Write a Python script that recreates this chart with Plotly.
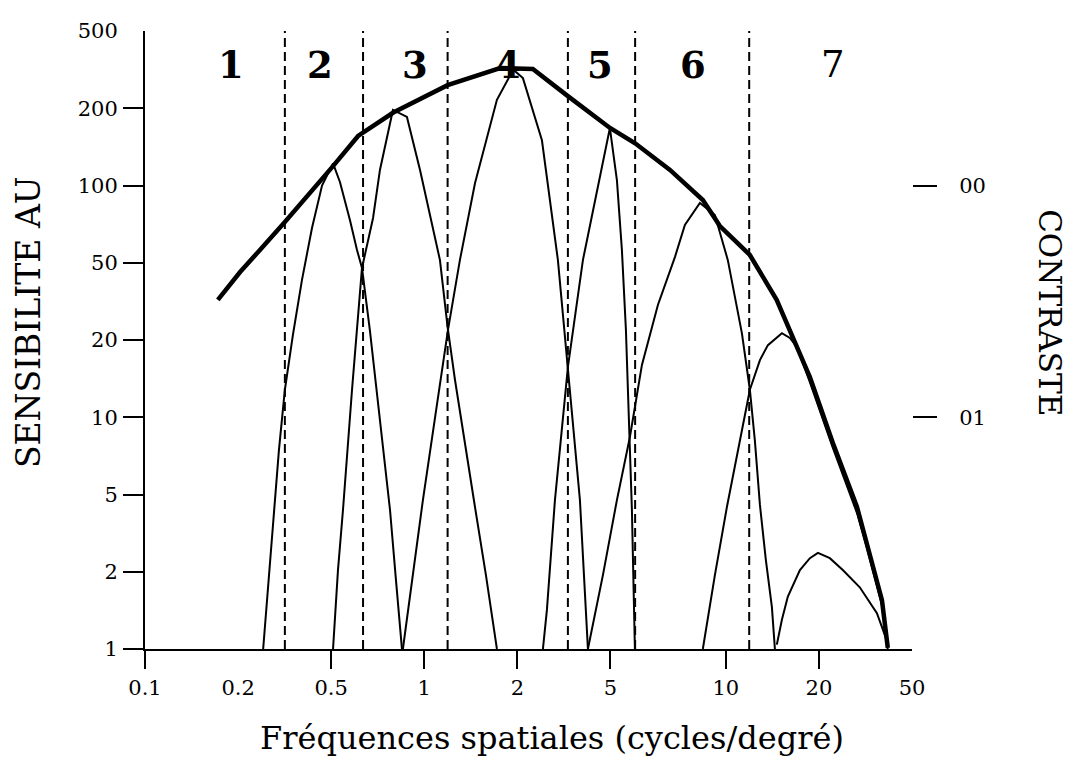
import numpy as np
import plotly.graph_objects as go

# ---- axis tick values / labels ----
X_TICKS = [0.1, 0.2, 0.5, 1, 2, 5, 10, 20, 50]
X_TICK_LABELS = ["0.1", "0.2", "0.5", "1", "2", "5", "10", "20", "50"]
X_TICKS_MARKED = [0.1, 0.5, 1, 2, 5, 10, 20]
Y_TICKS = [1, 2, 5, 10, 20, 50, 100, 200, 500]
Y_TICK_LABELS = ["1", "2", "5", "10", "20", "50", "100", "200", "500"]
Y_TICKS_MARKED = [1, 2, 5, 10, 20, 50, 100, 200]
CONTRAST_TICKS = [100, 10]
CONTRAST_LABELS = ["00", "01"]

# axis calibration of the hand-drawn scales (tick index positions)
X_SCALE = [0, 1, 2, 3, 4, 5, 6.24, 7.24, 8.24]
Y_SCALE = [0, 1, 2, 3, 4, 5, 6, 7, 8]

# ---- data: spatial frequency (c/deg) vs sensitivity ----
env_f = [0.172, 0.204, 0.248, 0.317, 0.507, 0.611, 0.792, 1.19, 1.76, 2.05, 2.33, 3.29, 4.98,
         5.80, 7.15, 8.71, 9.65, 11.96, 14.6, 18.7, 22.95, 29.1, 32.1, 37.2, 39.4]
env_s = [32.2, 44.8, 56.1, 72.1, 119, 156, 192, 263, 322, 322, 319, 231, 167.5,
         146, 115, 87.8, 69.5, 53.6, 32.2, 14.35, 7.94, 4.31, 2.81, 1.55, 1.01]

ch2_f = [0.256, 0.268, 0.282, 0.299, 0.317, 0.343, 0.375, 0.414, 0.457, 0.507,
         0.534, 0.575, 0.606, 0.629, 0.667, 0.719, 0.775, 0.81, 0.847]
ch2_s = [1.0, 1.7, 3.4, 7.45, 12.8, 21.2, 40.7, 68.3, 100, 122,
         103, 73.4, 56.1, 47.0, 22.5, 9.76, 4.16, 1.86, 1.0]

ch3_f = [0.507, 0.526, 0.546, 0.584, 0.629, 0.683, 0.719, 0.792, 0.879, 0.969,
         1.124, 1.19, 1.257, 1.354, 1.459, 1.583, 1.718]
ch3_s = [1.0, 2.04, 4.16, 12.8, 47.0, 74.7, 115, 197, 185, 115,
         51.2, 23.3, 14.0, 7.8, 4.31, 1.94, 1.0]

ch4_f = [0.853, 0.919, 0.990, 1.083, 1.193, 1.304, 1.459, 1.718, 1.94, 2.113,
         2.548, 2.982, 3.291, 3.704, 4.007]
ch4_s = [1.0, 1.94, 4.68, 9.93, 22.5, 51.2, 102, 221, 316, 286,
         150, 51.2, 15.7, 4.68, 1.0]

ch5_f = [2.573, 2.676, 2.896, 3.291, 3.814, 4.378, 4.975, 5.199, 5.357, 5.488,
         5.587, 5.689, 5.792]
ch5_s = [1.0, 1.42, 4.68, 15.7, 51.2, 96.0, 167.5, 105, 56.1, 22.5,
         9.76, 4.16, 1.0]

ch6_f = [4.007, 4.644, 5.199, 5.621, 6.042, 6.65, 7.365, 7.82, 8.558, 9.364,
         10.15, 11.27, 11.96, 12.41, 12.89, 13.47, 14.09, 14.41]
ch6_s = [1.0, 1.94, 4.68, 8.38, 16.0, 30.3, 52.6, 70.2, 85.5, 76.7,
         51.2, 21.7, 12.8, 8.15, 4.42, 2.30, 1.46, 1.0]

ch7_f = [8.71, 9.364, 10.08, 11.10, 11.96, 12.89, 13.68, 15.18, 16.11, 16.97,
         18.70, 22.95, 29.1, 32.1, 37.2, 39.4]
ch7_s = [1.0, 1.94, 4.31, 8.15, 12.8, 16.7, 19.1, 21.7, 20.5, 18.8,
         13.7, 7.59, 4.01, 2.65, 1.48, 1.0]

ch8_f = [14.62, 15.18, 15.87, 17.36, 18.70, 19.85, 22.27, 25.3, 29.9, 35.4, 39.0]
ch8_s = [1.04, 1.30, 1.60, 2.04, 2.35, 2.50, 2.35, 2.04, 1.74, 1.38, 1.08]

channels = [(ch2_f, ch2_s), (ch3_f, ch3_s), (ch4_f, ch4_s), (ch5_f, ch5_s),
            (ch6_f, ch6_s), (ch7_f, ch7_s), (ch8_f, ch8_s)]

band_limits = [0.317, 0.634, 1.19, 3.29, 5.80, 11.9]
band_labels = ["1", "2", "3", "4", "5", "6", "7"]
band_label_f = [0.19, 0.448, 0.933, 1.865, 4.51, 8.2, 22.95]


def fx(v):
    return np.interp(np.log10(np.asarray(v, float)), np.log10(X_TICKS), X_SCALE)


def fy(v):
    return np.interp(np.log10(np.asarray(v, float)), np.log10(Y_TICKS), Y_SCALE)


XR = [float(fx(0.1)), float(fx(50))]
YR = [float(fy(1)), float(fy(500))]

FONT = "DejaVu Serif"
fig = go.Figure()

for lim in band_limits:
    fig.add_trace(go.Scatter(x=[float(fx(lim))] * 2, y=YR, mode="lines",
                             line=dict(color="black", width=2, dash="9px,5px"),
                             hoverinfo="skip", showlegend=False))

for f, s in channels:
    fig.add_trace(go.Scatter(x=fx(f), y=fy(s), mode="lines",
                             line=dict(color="black", width=2),
                             showlegend=False))

fig.add_trace(go.Scatter(x=fx(env_f), y=fy(env_s), mode="lines",
                         line=dict(color="black", width=4.5),
                         showlegend=False))

# invisible carriers for the overlay axes
fig.add_trace(go.Scatter(x=XR, y=YR, xaxis="x2", yaxis="y2", mode="lines",
                         line=dict(width=0), hoverinfo="skip", showlegend=False))
fig.add_trace(go.Scatter(x=XR, y=YR, xaxis="x", yaxis="y3", mode="lines",
                         line=dict(width=0), hoverinfo="skip", showlegend=False))

for lab, f in zip(band_labels, band_label_f):
    txt = lab if lab == "7" else "<b>" + lab + "</b>"
    fig.add_annotation(x=float(fx(f)), y=0.945, xref="x", yref="paper", text=txt,
                       xanchor="center", yanchor="middle",
                       showarrow=False, font=dict(family=FONT, size=37, color="black"))

fig.add_annotation(x=0.5306, y=-0.144, xref="paper", yref="paper",
                   xanchor="center", yanchor="middle",
                   text="Fréquences spatiales (cycles/degré)", showarrow=False,
                   font=dict(family=FONT, size=32, color="black"))
fig.add_annotation(x=-0.1525, y=0.529, xref="paper", yref="paper",
                   xanchor="center", yanchor="middle",
                   text="SENSIBILITE AU", textangle=-90, showarrow=False,
                   font=dict(family=FONT, size=33, color="black"))
fig.add_annotation(x=1.18, y=0.545, xref="paper", yref="paper",
                   xanchor="center", yanchor="middle",
                   text="CONTRASTE", textangle=90, showarrow=False,
                   font=dict(family=FONT, size=31, color="black"))

tickfont = dict(family=FONT, size=21, color="black")
fig.update_layout(
    width=1069, height=760,
    margin=dict(l=145, r=157, t=31, b=111),
    paper_bgcolor="white", plot_bgcolor="white",
    showlegend=False,
    xaxis=dict(range=XR, tickmode="array", tickvals=list(fx(X_TICKS)), ticktext=X_TICK_LABELS,
               ticks="outside", ticklen=19, tickcolor="rgba(0,0,0,0)", tickfont=tickfont,
               showline=True, linecolor="black", linewidth=2, showgrid=False, zeroline=False),
    yaxis=dict(range=YR, tickmode="array", tickvals=list(fy(Y_TICKS)), ticktext=Y_TICK_LABELS,
               ticks="outside", ticklen=21, tickcolor="rgba(0,0,0,0)", tickfont=tickfont,
               showline=True, linecolor="black", linewidth=2, showgrid=False, zeroline=False),
    xaxis2=dict(range=XR, overlaying="x", anchor="y2", side="bottom", tickmode="array",
                tickvals=list(fx(X_TICKS_MARKED)), ticks="outside", ticklen=19, tickwidth=2,
                tickcolor="black", showticklabels=False, showline=False, showgrid=False,
                zeroline=False),
    yaxis2=dict(range=YR, overlaying="y", anchor="x2", side="left", tickmode="array",
                tickvals=list(fy(Y_TICKS_MARKED)), ticks="outside", ticklen=21, tickwidth=2,
                tickcolor="black", showticklabels=False, showline=False, showgrid=False,
                zeroline=False),
    yaxis3=dict(range=YR, overlaying="y", anchor="x", side="right", tickmode="array",
                tickvals=list(fy(CONTRAST_TICKS)), ticktext=CONTRAST_LABELS,
                ticks="outside", ticklen=24, tickwidth=2, tickcolor="black",
                ticklabelstandoff=18, tickfont=tickfont,
                showline=False, showgrid=False, zeroline=False),
)

fig.write_html("out.html")
